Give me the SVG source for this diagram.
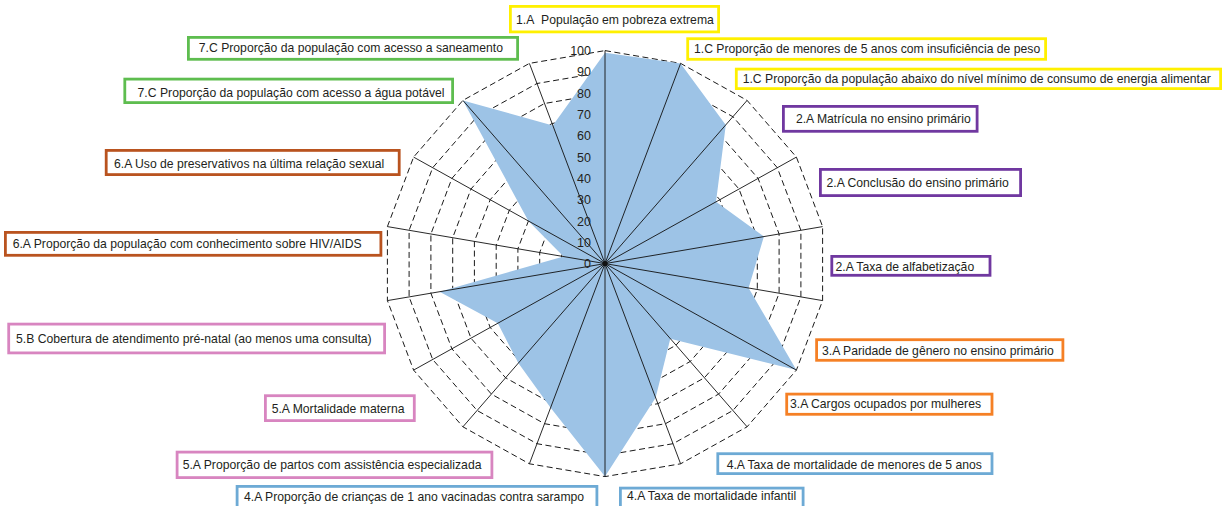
<svg xmlns="http://www.w3.org/2000/svg" width="1225" height="506" viewBox="0 0 1225 506">
<style>
.ring{fill:none;stroke:#1a1a1a;stroke-width:1;stroke-dasharray:6 3.5}
.axis{stroke:#111;stroke-width:0.9}
.tick{font-family:"Liberation Sans",Arial,sans-serif;font-size:12.5px;fill:#231F20;text-anchor:end}
.lbl{font-family:"Liberation Sans",Arial,sans-serif;font-size:12.2px;fill:#231F20}
.box{fill:#fff;stroke-width:2.8}
.y{stroke:#FFF000}.g{stroke:#5EBD4F}.p{stroke:#7038A0}.br{stroke:#B9531F}.o{stroke:#F58025}.pk{stroke:#D885C0}.b{stroke:#6DAAD5}
</style>
<rect width="1225" height="506" fill="#fff"/>
<g id="chart" transform="translate(605,263.6)">
<g id="grid">
<polygon class="ring" points="0,-21.3 7.6,-20 14.2,-16.3 19.1,-10.7 21.8,-3.7 21.8,3.7 19.1,10.7 14.2,16.3 7.6,20 0,21.3 -7.6,20 -14.2,16.3 -19.1,10.7 -21.8,3.7 -21.8,-3.7 -19.1,-10.7 -14.2,-16.3 -7.6,-20"/>
<polygon class="ring" points="0,-42.6 15.1,-40 28.4,-32.6 38.3,-21.3 43.5,-7.4 43.5,7.4 38.3,21.3 28.4,32.6 15.1,40 0,42.6 -15.1,40 -28.4,32.6 -38.3,21.3 -43.5,7.4 -43.5,-7.4 -38.3,-21.3 -28.4,-32.6 -15.1,-40"/>
<polygon class="ring" points="0,-63.9 22.7,-60 42.6,-49 57.4,-32 65.3,-11.1 65.3,11.1 57.4,32 42.6,49 22.7,60 0,63.9 -22.7,60 -42.6,49 -57.4,32 -65.3,11.1 -65.3,-11.1 -57.4,-32 -42.6,-49 -22.7,-60"/>
<polygon class="ring" points="0,-85.2 30.2,-80.1 56.8,-65.3 76.6,-42.6 87.1,-14.8 87.1,14.8 76.6,42.6 56.8,65.3 30.2,80.1 0,85.2 -30.2,80.1 -56.8,65.3 -76.6,42.6 -87.1,14.8 -87.1,-14.8 -76.6,-42.6 -56.8,-65.3 -30.2,-80.1"/>
<polygon class="ring" points="0,-106.5 37.8,-100.1 71,-81.6 95.7,-53.3 108.8,-18.5 108.8,18.5 95.7,53.3 71,81.6 37.8,100.1 0,106.5 -37.8,100.1 -71,81.6 -95.7,53.3 -108.8,18.5 -108.8,-18.5 -95.7,-53.3 -71,-81.6 -37.8,-100.1"/>
<polygon class="ring" points="0,-127.8 45.4,-120.1 85.2,-97.9 114.8,-63.9 130.6,-22.2 130.6,22.2 114.8,63.9 85.2,97.9 45.4,120.1 0,127.8 -45.4,120.1 -85.2,97.9 -114.8,63.9 -130.6,22.2 -130.6,-22.2 -114.8,-63.9 -85.2,-97.9 -45.4,-120.1"/>
<polygon class="ring" points="0,-149.1 52.9,-140.1 99.4,-114.2 134,-74.6 152.3,-25.9 152.3,25.9 134,74.6 99.4,114.2 52.9,140.1 0,149.1 -52.9,140.1 -99.4,114.2 -134,74.6 -152.3,25.9 -152.3,-25.9 -134,-74.6 -99.4,-114.2 -52.9,-140.1"/>
<polygon class="ring" points="0,-170.4 60.5,-160.1 113.6,-130.5 153.1,-85.2 174.1,-29.6 174.1,29.6 153.1,85.2 113.6,130.5 60.5,160.1 0,170.4 -60.5,160.1 -113.6,130.5 -153.1,85.2 -174.1,29.6 -174.1,-29.6 -153.1,-85.2 -113.6,-130.5 -60.5,-160.1"/>
<polygon class="ring" points="0,-191.7 68,-180.1 127.9,-146.9 172.3,-95.9 195.9,-33.3 195.9,33.3 172.3,95.9 127.9,146.9 68,180.1 0,191.7 -68,180.1 -127.9,146.9 -172.3,95.9 -195.9,33.3 -195.9,-33.3 -172.3,-95.9 -127.9,-146.9 -68,-180.1"/>
<polygon class="ring" points="0,-213 75.6,-200.2 142.1,-163.2 191.4,-106.5 217.6,-37 217.6,37 191.4,106.5 142.1,163.2 75.6,200.2 0,213 -75.6,200.2 -142.1,163.2 -191.4,106.5 -217.6,37 -217.6,-37 -191.4,-106.5 -142.1,-163.2 -75.6,-200.2"/>
</g>
<polygon id="data" fill="#9DC3E6" points="0,-210.9 75.6,-200.2 120.8,-138.7 111,-61.8 158.9,-27 143.6,24.4 191.4,106.5 65.3,75.1 50.6,134.1 0,213 -54.4,144.1 -86.7,99.5 -107.2,59.6 -165.4,28.1 -41.4,-7 -76.6,-42.6 -142.1,-163.2 -52.2,-138.1"/>
<g id="axes" class="axis">
<line x1="0" y1="0" x2="0" y2="-213"/>
<line x1="0" y1="0" x2="75.6" y2="-200.2"/>
<line x1="0" y1="0" x2="142.1" y2="-163.2"/>
<line x1="0" y1="0" x2="191.4" y2="-106.5"/>
<line x1="0" y1="0" x2="217.6" y2="-37"/>
<line x1="0" y1="0" x2="217.6" y2="37"/>
<line x1="0" y1="0" x2="191.4" y2="106.5"/>
<line x1="0" y1="0" x2="142.1" y2="163.2"/>
<line x1="0" y1="0" x2="75.6" y2="200.2"/>
<line x1="0" y1="0" x2="0" y2="213"/>
<line x1="0" y1="0" x2="-75.6" y2="200.2"/>
<line x1="0" y1="0" x2="-142.1" y2="163.2"/>
<line x1="0" y1="0" x2="-191.4" y2="106.5"/>
<line x1="0" y1="0" x2="-217.6" y2="37"/>
<line x1="0" y1="0" x2="-217.6" y2="-37"/>
<line x1="0" y1="0" x2="-191.4" y2="-106.5"/>
<line x1="0" y1="0" x2="-142.1" y2="-163.2"/>
<line x1="0" y1="0" x2="-75.6" y2="-200.2"/>
</g>
<circle cx="0" cy="0" r="2.6" fill="#111"/>
<g id="ticks" class="tick">
<text x="-14" y="4.5">0</text>
<text x="-14" y="-16.8">10</text>
<text x="-14" y="-38.1">20</text>
<text x="-14" y="-59.4">30</text>
<text x="-14" y="-80.7">40</text>
<text x="-14" y="-102">50</text>
<text x="-14" y="-123.3">60</text>
<text x="-14" y="-144.6">70</text>
<text x="-14" y="-165.9">80</text>
<text x="-14" y="-187.2">90</text>
<text x="-14" y="-208.5">100</text>
</g>
</g>
<g id="n1a"><rect class="box y" x="510.4" y="6.4" width="208.2" height="25.5"/><text class="lbl" x="516" y="24.3">1.A&#160; População em pobreza extrema</text></g>
<g id="n1c-peso"><rect class="box y" x="687.7" y="38.7" width="357.9" height="20.6"/><text class="lbl" x="694" y="52.6">1.C Proporção de menores de 5 anos com insuficiência de peso</text></g>
<g id="n1c-energia"><rect class="box y" x="736.3" y="69.1" width="484.3" height="19.5"/><text class="lbl" x="742.7" y="83">1.C Proporção da população abaixo do nível mínimo de consumo de energia alimentar</text></g>
<g id="n2a-matricula"><rect class="box p" x="783.4" y="106.4" width="193.7" height="24.9"/><text class="lbl" x="795.9" y="123.3">2.A Matrícula no ensino primário</text></g>
<g id="n2a-conclusao"><rect class="box p" x="820.4" y="169.4" width="200.2" height="26.2"/><text class="lbl" x="826.5" y="187.3">2.A Conclusão do ensino primário</text></g>
<g id="n2a-alfab"><rect class="box p" x="831.8" y="256.4" width="158.2" height="18.9"/><text class="lbl" x="835.5" y="271">2.A Taxa de alfabetização</text></g>
<g id="n3a-paridade"><rect class="box o" x="816.6" y="339.7" width="246.3" height="20.6"/><text class="lbl" x="822" y="355">3.A Paridade de gênero no ensino primário</text></g>
<g id="n3a-cargos"><rect class="box o" x="786.7" y="394.1" width="205.3" height="20.2"/><text class="lbl" x="790" y="408.3">3.A Cargos ocupados por mulheres</text></g>
<g id="n4a-menores5"><rect class="box b" x="717.8" y="453.7" width="274.2" height="19.9"/><text class="lbl" x="726.7" y="468.6">4.A Taxa de mortalidade de menores de 5 anos</text></g>
<g id="n4a-infantil"><rect class="box b" x="620.4" y="488.1" width="182.7" height="22"/><text class="lbl" x="627" y="500.3">4.A Taxa de mortalidade infantil</text></g>
<g id="n4a-sarampo"><rect class="box b" x="237.1" y="486.4" width="359.8" height="24"/><text class="lbl" x="244" y="501">4.A Proporção de crianças de 1 ano vacinadas contra sarampo</text></g>
<g id="n5a-partos"><rect class="box pk" x="177.1" y="452.1" width="314.8" height="25.5"/><text class="lbl" x="182.7" y="469.3">5.A Proporção de partos com assistência especializada</text></g>
<g id="n5a-materna"><rect class="box pk" x="265.4" y="395.7" width="148.9" height="24.9"/><text class="lbl" x="271.7" y="413.3">5.A Mortalidade materna</text></g>
<g id="n5b-prenatal"><rect class="box pk" x="8.7" y="324.1" width="375.9" height="28.8"/><text class="lbl" x="16" y="342.6">5.B Cobertura de atendimento pré-natal (ao menos uma consulta)</text></g>
<g id="n6a-hiv"><rect class="box br" x="5.4" y="232.4" width="375.5" height="22.9"/><text class="lbl" x="12.7" y="247.6">6.A Proporção da população com conhecimento sobre HIV/AIDS</text></g>
<g id="n6a-preserv"><rect class="box br" x="106.2" y="150.4" width="293" height="24.2"/><text class="lbl" x="114" y="168.3">6.A Uso de preservativos na última relação sexual</text></g>
<g id="n7c-agua"><rect class="box g" x="124.8" y="79.1" width="327.8" height="23.5"/><text class="lbl" x="137.6" y="96.6">7.C Proporção da população com acesso a água potável</text></g>
<g id="n7c-saneamento"><rect class="box g" x="188.4" y="37.4" width="329.2" height="21.9"/><text class="lbl" x="198.8" y="51.6">7.C Proporção da população com acesso a saneamento</text></g>
</svg>
